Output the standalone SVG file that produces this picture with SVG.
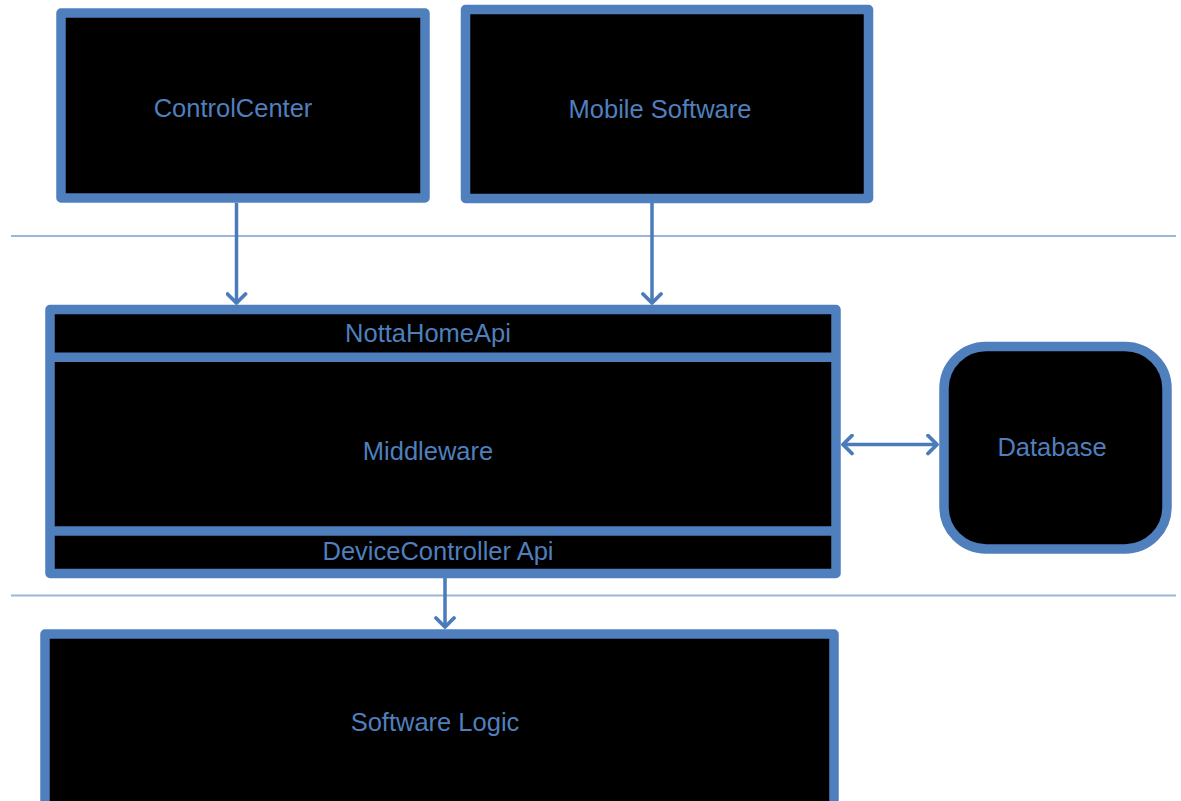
<svg xmlns="http://www.w3.org/2000/svg" width="1181" height="801" viewBox="0 0 1181 801">
  <style>
    .box { fill: #000000; stroke: #4f7fbd; stroke-width: 9.5; stroke-linejoin: round; }
    .div { stroke: #4f7fbd; stroke-width: 9.5; }
    .lbl { font-family: "Liberation Sans", Arial, sans-serif; font-size: 25.5px; fill: #4f7fbd; text-anchor: middle; }
    .sep { stroke: #9bb6dc; stroke-width: 2; }
    .conn { stroke: #4a7bbb; stroke-width: 3.5; fill: none; }
  </style>
  <defs>
    <marker id="arr" viewBox="-13 -11 16 22" refX="0" refY="0" markerWidth="16" markerHeight="22" markerUnits="userSpaceOnUse" orient="auto-start-reverse">
      <path d="M-9,-9 L0,0 L-9,9" fill="none" stroke="#4a7bbb" stroke-width="3.8" stroke-linecap="round" stroke-linejoin="round"/>
    </marker>
  </defs>
  <rect width="1181" height="801" fill="#ffffff"/>

  <g id="separators">
    <line class="sep" x1="11" y1="236" x2="1176" y2="236"/>
    <line class="sep" x1="11" y1="595.5" x2="1176" y2="595.5"/>
  </g>

  <g id="controlcenter">
    <rect class="box" x="61" y="13" width="364" height="185"/>
    <text class="lbl" x="233" y="116.5">ControlCenter</text>
  </g>

  <g id="mobile-software">
    <rect class="box" x="465.5" y="9.5" width="403" height="189"/>
    <text class="lbl" x="660" y="118">Mobile Software</text>
  </g>

  <g id="middleware">
    <rect class="box" x="50" y="309.5" width="786" height="264"/>
    <line class="div" x1="50" y1="357.3" x2="836" y2="357.3"/>
    <line class="div" x1="50" y1="531" x2="836" y2="531"/>
    <text class="lbl" x="428" y="341.5">NottaHomeApi</text>
    <text class="lbl" x="428" y="460">Middleware</text>
    <text class="lbl" x="438" y="559.5">DeviceController Api</text>
  </g>

  <g id="database">
    <rect class="box" x="944" y="346.5" width="223" height="202.5" rx="42" ry="42"/>
    <text class="lbl" x="1052" y="456">Database</text>
  </g>

  <g id="software-logic">
    <rect class="box" x="45" y="634" width="789" height="190"/>
    <text class="lbl" x="435" y="731">Software Logic</text>
  </g>

  <g id="connectors">
    <line class="conn" x1="236.5" y1="203" x2="236.5" y2="303" marker-end="url(#arr)"/>
    <line class="conn" x1="652" y1="203" x2="652" y2="303" marker-end="url(#arr)"/>
    <line class="conn" x1="445" y1="578" x2="445" y2="627" marker-end="url(#arr)"/>
    <line class="conn" x1="843" y1="444.5" x2="937" y2="444.5" marker-start="url(#arr)" marker-end="url(#arr)"/>
  </g>
</svg>
